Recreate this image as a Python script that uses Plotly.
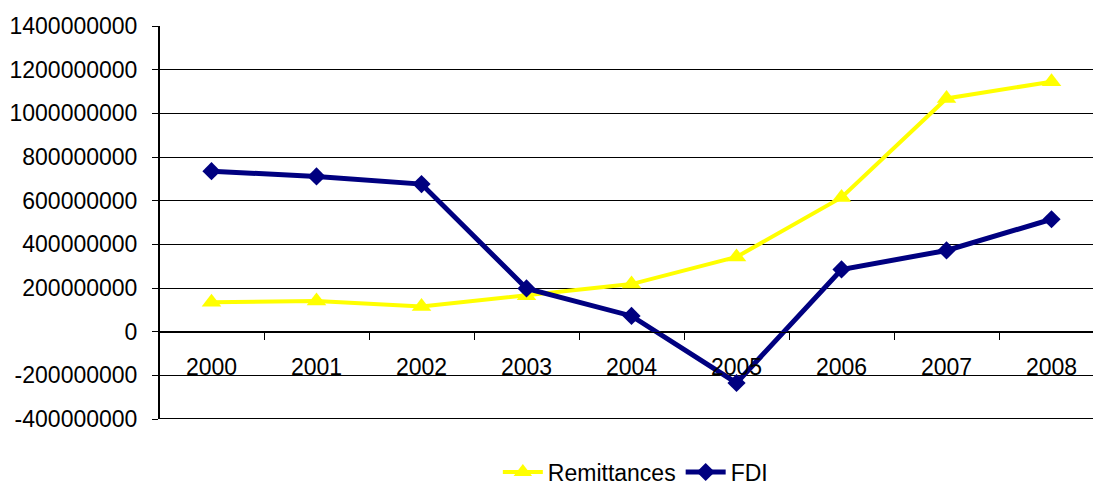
import plotly.graph_objects as go

years = ["2000", "2001", "2002", "2003", "2004", "2005", "2006", "2007", "2008"]
remittances = [135e6, 141e6, 115e6, 165e6, 218e6, 342e6, 615e6, 1068e6, 1145e6]
fdi = [735e6, 711e6, 676e6, 198e6, 72e6, -235e6, 285e6, 372e6, 515e6]

y_min, y_max = -400e6, 1400e6
y_ticks = list(range(int(y_min), int(y_max) + 1, int(200e6)))
y_ticktext = [str(v) for v in y_ticks]  # plain hyphen for negatives
font = dict(family="Arial, Liberation Sans, sans-serif", size=23, color="black")

fig = go.Figure()
fig.add_trace(go.Scatter(
    x=years, y=remittances, name="Remittances", mode="lines+markers",
    line=dict(color="#FFFF00", width=4),
    marker=dict(symbol="triangle-up", size=17, color="#FFFF00"),
))
fig.add_trace(go.Scatter(
    x=years, y=fdi, name="FDI", mode="lines+markers",
    line=dict(color="#000080", width=5),
    marker=dict(symbol="diamond", size=14, color="#000080"),
))

# heavier left and bottom edges of the plot area
fig.add_shape(type="line", xref="paper", x0=0, x1=1, yref="y", y0=y_min, y1=y_min,
              line=dict(color="black", width=2), layer="below")
fig.add_shape(type="line", xref="paper", x0=0, x1=0, yref="y", y0=y_min, y1=y_max,
              line=dict(color="black", width=2), layer="below")

zero_pos = (0 - y_min) / (y_max - y_min)

fig.update_layout(
    width=1093, height=488,
    paper_bgcolor="white", plot_bgcolor="white",
    margin=dict(l=159, r=0, t=26, b=69, autoexpand=False),
    font=font,
    showlegend=True,
    legend=dict(orientation="h", xanchor="center", x=0.51, yanchor="middle",
                y=-0.135, font=font, bgcolor="rgba(0,0,0,0)", itemwidth=40),
    xaxis=dict(
        type="category", range=[-0.5, 8.395],
        anchor="free", position=zero_pos,
        showline=True, linecolor="black", linewidth=1,
        ticks="outside", tickson="boundaries", ticklen=7, tickcolor="black",
        ticklabelstandoff=15,
        showgrid=False, zeroline=False, tickfont=font,
    ),
    yaxis=dict(
        range=[y_min, y_max], tickvals=y_ticks, ticktext=y_ticktext,
        showline=True, linecolor="black", linewidth=1,
        ticks="outside", ticklen=6, tickcolor="black",
        showgrid=True, gridcolor="black", gridwidth=1,
        zeroline=True, zerolinecolor="black", zerolinewidth=1,
        ticklabelstandoff=10, tickfont=font,
    ),
)

fig.write_html("out.html")
